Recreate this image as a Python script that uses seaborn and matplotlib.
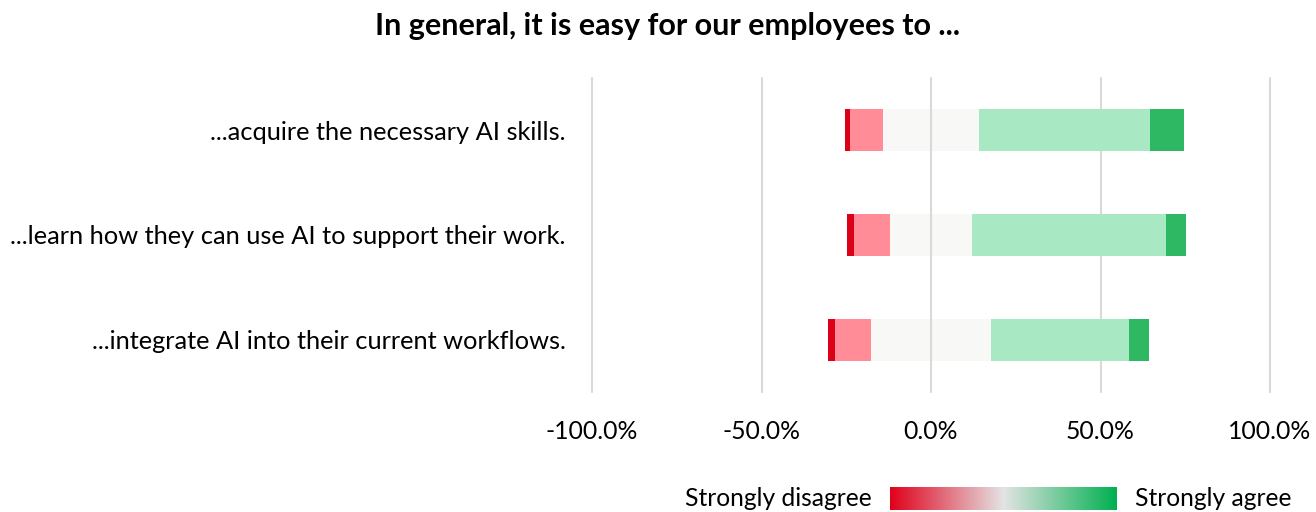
import numpy as np
import pandas as pd
import seaborn as sns
import matplotlib.pyplot as plt
from matplotlib.colors import LinearSegmentedColormap
from matplotlib.ticker import FuncFormatter

# Survey statements and response shares (percent of respondents)
items = [
    "...acquire the necessary AI skills.",
    "...learn how they can use AI to support their work.",
    "...integrate AI into their current workflows.",
]
strongly_disagree = [1.5, 2.2, 2.0]
disagree = [9.8, 10.7, 10.7]
neutral = [28.1, 23.9, 35.3]
agree = [50.5, 57.3, 40.7]
strongly_agree = [10.2, 6.0, 5.9]
tick_values = [-100, -50, 0, 50, 100]

colors = {
    "sd": "#DC0019",
    "d": "#FF8C96",
    "n": "#F8F8F7",
    "a": "#A8E9C3",
    "sa": "#2EB863",
}

sns.set_theme(style="white")
plt.rcParams["font.family"] = ["Lato", "DejaVu Sans"]
plt.rcParams["text.color"] = "black"

df = pd.DataFrame({
    "item": items,
    "sd": strongly_disagree,
    "d": disagree,
    "n": neutral,
    "a": agree,
    "sa": strongly_agree,
})
half_n = df["n"] / 2

# Diverging stack: each layer is drawn from zero to its cumulative edge, outermost first
layers = [
    (half_n + df["a"] + df["sa"], colors["sa"]),
    (half_n + df["a"], colors["a"]),
    (-(half_n + df["d"] + df["sd"]), colors["sd"]),
    (-(half_n + df["d"]), colors["d"]),
    (half_n, colors["n"]),
    (-half_n, colors["n"]),
]

fig = plt.figure(figsize=(13.16, 5.12), dpi=100)
ax = fig.add_axes([592 / 1316, 1 - 392 / 512, (1270 - 592) / 1316, (392 - 78) / 512])

for values, col in layers:
    sns.barplot(x=values.values, y=df["item"], orient="h", color=col,
                width=0.4, linewidth=0, saturation=1, ax=ax, zorder=2)

ax.set_xlim(-100, 100)
ax.set_ylim(2.5, -0.5)
ax.set_xticks(tick_values)
ax.xaxis.set_major_formatter(FuncFormatter(lambda v, _: f"{v:.1f}%"))
for v in tick_values:
    ax.axvline(v, color="#D9D9D9", lw=1.5, zorder=1 if v != 0 else 3, clip_on=False)
ax.set_xlabel("")
ax.set_ylabel("")
for s in ax.spines.values():
    s.set_visible(False)
ax.tick_params(axis="x", length=0, pad=20, labelsize=17.8, colors="black")
ax.tick_params(axis="y", length=0, pad=19, labelsize=18.3, colors="black")

fig.text(0.507, 0.949, "In general, it is easy for our employees to ...",
         ha="center", va="center", fontsize=22, fontweight="bold", color="black")

# Gradient legend
cmap = LinearSegmentedColormap.from_list("agree_scale", ["#E0001B", "#E4E4E4", "#00B050"])
lax = fig.add_axes([890 / 1316, 1 - 510 / 512, (1117 - 890) / 1316, 23 / 512])
lax.imshow(np.linspace(0, 1, 256)[None, :], aspect="auto", cmap=cmap)
lax.set_axis_off()
fig.text(872 / 1316, 1 - 499 / 512, "Strongly disagree", ha="right", va="center",
         fontsize=17.7, color="black")
fig.text(1135 / 1316, 1 - 499 / 512, "Strongly agree", ha="left", va="center",
         fontsize=17.7, color="black")

fig.savefig("out.png", dpi=100)
